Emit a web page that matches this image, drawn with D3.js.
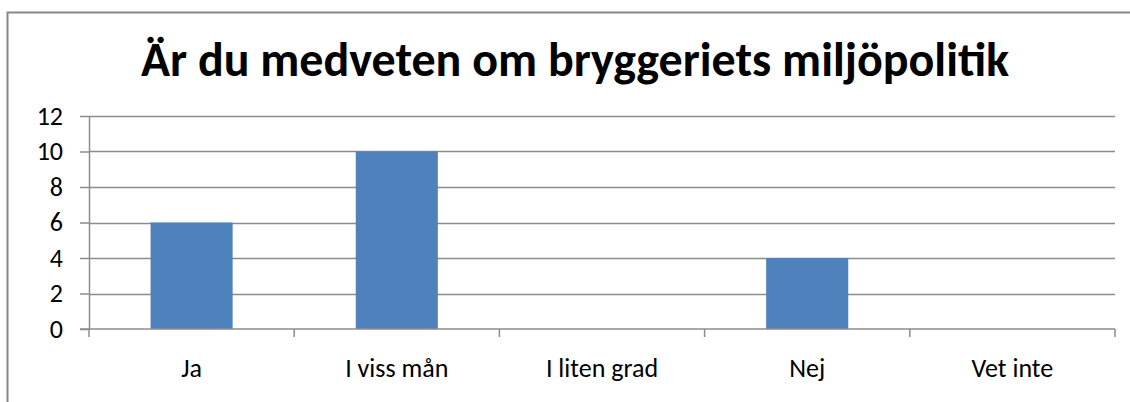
<!DOCTYPE html>
<html>
<head>
<meta charset="utf-8">
<script src="https://cdn.jsdelivr.net/npm/d3@7"></script>
<style>
    body { margin: 0; background: #fff; }
    svg { display: block; }
    .axis text { font-family: Carlito, "Open Sans", sans-serif; fill: #000; }
</style>
</head>
<body>
<svg id="chart" width="1130" height="402"></svg>
<script>
// chart data
var title = "Är du medveten om bryggeriets miljöpolitik";
var categories = ["Ja", "I viss mån", "I liten grad", "Nej", "Vet inte"];
var answers = [6, 10, 0, 4, 0];
var yTicks = [0, 2, 4, 6, 8, 10, 12];

var width = 1130;
var height = 402;
var margin = { top: 116, right: 15, bottom: 73, left: 89 };
var innerWidth = width - margin.left - margin.right;
var innerHeight = height - margin.top - margin.bottom;

var svg = d3.select("#chart");

// outer frame of the chart: only top and left edges are visible
svg.append("path")
    .attr("d", `M7.5,${height}V12.5H${width}`)
    .attr("fill", "none")
    .attr("stroke", "#888")
    .attr("stroke-width", 2);

// title, fitted to the width it has in the original
var titleText = svg.append("text")
    .attr("x", 575)
    .attr("y", 76)
    .attr("text-anchor", "middle")
    .style("font-family", 'Carlito, "Open Sans", sans-serif')
    .style("font-weight", "bold")
    .style("font-size", "48px")
    .text(title);
var tw = titleText.node().getComputedTextLength();
if (tw > 872) titleText.style("font-size", (48 * 872 / tw) + "px");

var x = d3.scaleBand()
    .domain(categories)
    .range([0, innerWidth])
    .paddingInner(0.6)
    .paddingOuter(0.3);

var y = d3.scaleLinear()
    .domain([0, 12])
    .range([innerHeight, 0]);

var g = svg.append("g")
    .attr("transform", `translate(${margin.left},${margin.top})`);

// horizontal gridlines
g.append("g")
    .selectAll("line")
    .data(yTicks.slice(1))
    .enter()
    .append("line")
    .attr("x1", 0)
    .attr("x2", innerWidth)
    .attr("y1", d => Math.round(y(d)) + 0.5)
    .attr("y2", d => Math.round(y(d)) + 0.5)
    .attr("stroke", "#8c8c8c")
    .attr("stroke-width", 1.5);

// bars
g.append("g")
    .selectAll("rect")
    .data(answers)
    .enter()
    .append("rect")
    .attr("x", (d, i) => x(categories[i]))
    .attr("y", d => y(d))
    .attr("width", x.bandwidth())
    .attr("height", d => y(0) - y(d))
    .attr("fill", "#4f81bd");

// y axis
var yAxis = d3.axisLeft(y)
    .tickValues(yTicks)
    .tickSizeInner(9)
    .tickSizeOuter(0)
    .tickPadding(17);

g.append("g")
    .attr("class", "axis")
    .call(yAxis)
    .call(a => a.selectAll("line, path").attr("stroke", "#8c8c8c").attr("stroke-width", 1.5))
    .call(a => a.selectAll("text").attr("font-size", null).style("font-size", "26px"));

// x axis: baseline with tick marks between the categories
var xg = g.append("g")
    .attr("class", "axis")
    .attr("transform", `translate(0,${innerHeight})`);

xg.append("line")
    .attr("x1", -9)
    .attr("x2", innerWidth)
    .attr("stroke", "#8c8c8c")
    .attr("stroke-width", 1.5);

var step = innerWidth / categories.length;
xg.selectAll(".sep")
    .data(d3.range(categories.length + 1))
    .enter()
    .append("line")
    .attr("class", "sep")
    .attr("x1", i => i * step)
    .attr("x2", i => i * step)
    .attr("y1", 0)
    .attr("y2", 8)
    .attr("stroke", "#8c8c8c")
    .attr("stroke-width", 1.5);

xg.selectAll(".cat")
    .data(categories)
    .enter()
    .append("text")
    .attr("class", "cat")
    .attr("x", d => x(d) + x.bandwidth() / 2)
    .attr("y", 48)
    .attr("text-anchor", "middle")
    .style("font-size", "26px")
    .text(d => d);
</script>
</body>
</html>
